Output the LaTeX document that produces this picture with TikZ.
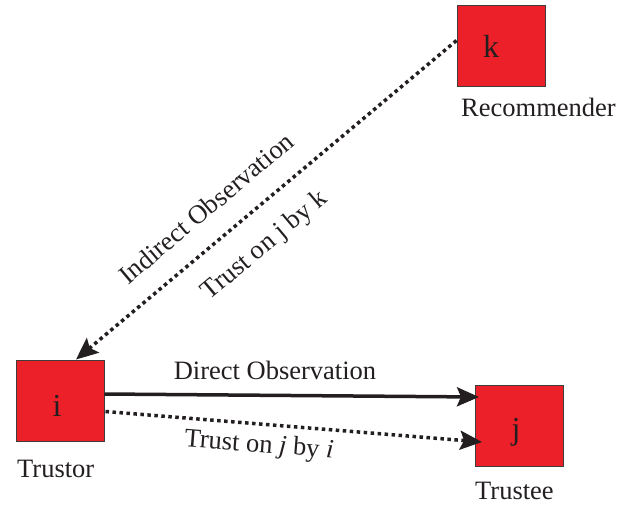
\documentclass[tikz,border=0pt]{standalone}
\usepackage{fontspec}
\setmainfont{Liberation Serif}
\usetikzlibrary{arrows.meta}
\definecolor{boxred}{RGB}{236,32,40}
\definecolor{ink}{RGB}{35,31,32}
\definecolor{edge}{RGB}{65,60,60}
\begin{document}
\begin{tikzpicture}[x=1pt,y=-1pt,
  agent/.style={draw=edge,line width=1pt,fill=boxred,minimum width=88pt,minimum height=81pt,inner sep=0pt},
  letter/.style={text=ink,font=\fontsize{32}{36}\selectfont,inner sep=0pt,anchor=base},
  lbl/.style={text=ink,font=\fontsize{26.5}{30}\selectfont,inner sep=0pt},
  tip/.style={-{Stealth[length=22pt,width=19pt,inset=4pt]}},
  solidarrow/.style={tip,draw=ink,line width=3.5pt},
  dotarrow/.style={tip,draw=ink,line width=3.5pt,dash pattern=on 3.5pt off 3.5pt}
]
\useasboundingbox (0,0) rectangle (632,504);
% boxes
\node[agent] (i) at (60,400.5) {};
\node[agent] (j) at (519.5,426) {};
\node[agent] (k) at (501,45.5) {};
% letters
\node[letter] (li) at (57,416) {i};
\node[letter] (lj) at (516,439) {j};
\node[letter] (lk) at (491,57) {k};
% role labels
\node[lbl,anchor=base west] (rk) at (461,116) {Recommender};
\node[lbl,anchor=base west] (ri) at (17,477) {Trustor};
\node[lbl,anchor=base west] (rj) at (475,499) {Trustee};
% connectors
\draw[dotarrow] ([yshift=5pt]k.west) -- ([xshift=16pt]i.north);
\draw[solidarrow] ([yshift=6.5pt]i.east) -- ([xshift=4pt,yshift=29pt]j.west);
\draw[dotarrow] ([xshift=1pt,yshift=-11pt]i.east) -- ([xshift=7pt,yshift=-16pt]j.west);
% connector labels
\node[lbl,anchor=base] (dobs) at (275,379) {Direct Observation};
\node[lbl,rotate=-4.5] (tji) at (259,446) {Trust on \textit{j} by \textit{i}};
\node[lbl,rotate=40] (iobs) at (206,208) {Indirect Observation};
\node[lbl,rotate=40] (tjk) at (265,246) {Trust on j by k};
\end{tikzpicture}
\end{document}
